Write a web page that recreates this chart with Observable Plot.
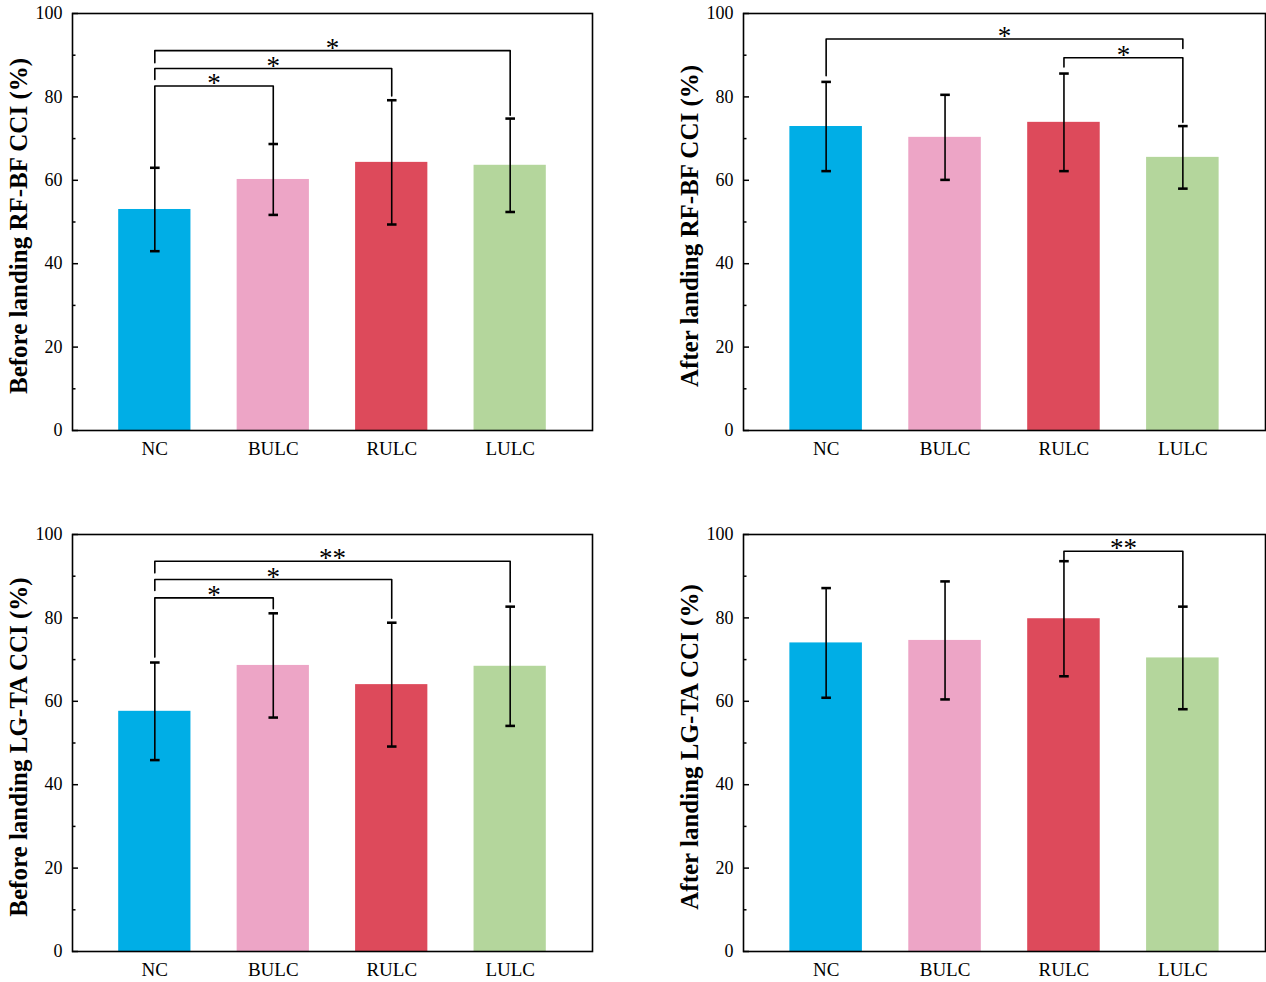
<!DOCTYPE html>
<html><head><meta charset="utf-8">
<script src="https://cdn.jsdelivr.net/npm/d3@7"></script>
<script src="https://cdn.jsdelivr.net/npm/@observablehq/plot@0.6"></script>
<style>
html,body{margin:0;padding:0;background:#fff;overflow:hidden;}
#root{position:relative;width:1266px;height:982px;background:#fff;}
.panel{position:absolute;}
</style></head><body><div id="root"></div>
<script>
const categories = ["NC", "BULC", "RULC", "LULC"];
const barColors = ["#00AEE6", "#EDA5C6", "#DD4A5B", "#B4D69C"];
const yMajorTicks = [0, 20, 40, 60, 80, 100];
const yMinorTicks = [10, 30, 50, 70, 90];

// Before landing RF-BF CCI
const beforeRFBFMean = [53.0, 60.2, 64.3, 63.6];
const beforeRFBFSd = [10.0, 8.5, 14.9, 11.2];
const beforeRFBFBrackets = [
  {from: "NC", to: "BULC", level: 82.6, leftEnd: 63.0, rightEnd: 68.7, label: "*"},
  {from: "NC", to: "RULC", level: 86.8, leftEnd: 84.2, rightEnd: 80.2, label: "*"},
  {from: "NC", to: "LULC", level: 91.1, leftEnd: 88.2, rightEnd: 75.6, label: "*"}
];

// After landing RF-BF CCI
const afterRFBFMean = [72.9, 70.3, 73.9, 65.5];
const afterRFBFSd = [10.7, 10.2, 11.7, 7.5];
const afterRFBFBrackets = [
  {from: "NC", to: "LULC", level: 93.9, leftEnd: 85.1, rightEnd: 91.6, label: "*"},
  {from: "RULC", to: "LULC", level: 89.4, leftEnd: 87.2, rightEnd: 73.9, label: "*"}
];

// Before landing LG-TA CCI
const beforeLGTAMean = [57.6, 68.6, 64.0, 68.4];
const beforeLGTASd = [11.7, 12.5, 14.85, 14.3];
const beforeLGTABrackets = [
  {from: "NC", to: "BULC", level: 84.8, leftEnd: 70.6, rightEnd: 82.2, label: "*"},
  {from: "NC", to: "RULC", level: 89.2, leftEnd: 86.6, rightEnd: 79.9, label: "*"},
  {from: "NC", to: "LULC", level: 93.6, leftEnd: 90.8, rightEnd: 83.8, label: "**"}
];

// After landing LG-TA CCI
const afterLGTAMean = [74.0, 74.6, 79.8, 70.4];
const afterLGTASd = [13.15, 14.15, 13.8, 12.3];
const afterLGTABrackets = [
  {from: "RULC", to: "LULC", level: 96.0, leftEnd: 93.5, rightEnd: 83.0, label: "**"}
];

const panels = [
  {ylabel: "Before landing RF-BF CCI (%)", mean: beforeRFBFMean, sd: beforeRFBFSd, brackets: beforeRFBFBrackets,
   left: 0, top: 0, marginLeft: 72, innerWidth: 520, marginRight: 28, marginBottom: 40},
  {ylabel: "After landing RF-BF CCI (%)", mean: afterRFBFMean, sd: afterRFBFSd, brackets: afterRFBFBrackets,
   left: 672, top: 0, marginLeft: 71, innerWidth: 522, marginRight: 1, marginBottom: 40},
  {ylabel: "Before landing LG-TA CCI (%)", mean: beforeLGTAMean, sd: beforeLGTASd, brackets: beforeLGTABrackets,
   left: 0, top: 521, marginLeft: 72, innerWidth: 520, marginRight: 28, marginBottom: 31},
  {ylabel: "After landing LG-TA CCI (%)", mean: afterLGTAMean, sd: afterLGTASd, brackets: afterLGTABrackets,
   left: 672, top: 521, marginLeft: 71, innerWidth: 522, marginRight: 1, marginBottom: 31}
];

const idx = c => categories.indexOf(c);
const halfBar = 0.305;

function makePanel(p) {
  const rows = categories.map((c, i) => ({
    cat: c, i, mean: p.mean[i], lo: p.mean[i] - p.sd[i], hi: p.mean[i] + p.sd[i], color: barColors[i]
  }));
  const bracketPts = p.brackets.flatMap((b, k) => [
    {id: k, x: idx(b.from), y: b.leftEnd},
    {id: k, x: idx(b.from), y: b.level},
    {id: k, x: idx(b.to), y: b.level},
    {id: k, x: idx(b.to), y: b.rightEnd}
  ]);
  const marginTop = 13, innerHeight = 417;
  return Plot.plot({
    width: p.marginLeft + p.innerWidth + p.marginRight,
    height: marginTop + innerHeight + p.marginBottom,
    marginLeft: p.marginLeft, marginRight: p.marginRight, marginTop, marginBottom: p.marginBottom,
    style: {fontFamily: "'Liberation Serif', 'Times New Roman', serif", color: "black", background: "white", overflow: "visible"},
    x: {type: "linear", domain: [-0.695, 3.695], axis: null},
    y: {domain: [0, 100], axis: null},
    color: {type: "identity"},
    marks: [
      Plot.rectY(rows, {x1: d => d.i - halfBar, x2: d => d.i + halfBar, y1: 0, y2: "mean", fill: d => d.color}),
      Plot.link(rows, {x1: "i", x2: "i", y1: "lo", y2: "hi", stroke: "black", strokeWidth: 1.6, markerStart: "tick", markerEnd: "tick"}),
      Plot.line(bracketPts, {x: "x", y: "y", z: "id", stroke: "black", strokeWidth: 1.6}),
      Plot.text(p.brackets, {x: d => (idx(d.from) + idx(d.to)) / 2, y: "level", text: "label", lineAnchor: "bottom", dy: 6, fontSize: 27, fill: "black"}),
      Plot.frame({stroke: "black", strokeWidth: 1.6}),
      Plot.axisY({ticks: yMajorTicks, tickSize: -6, tickPadding: 16, fontSize: 18, tickFormat: d => String(d), label: null, strokeWidth: 1.5}),
      Plot.axisY({ticks: yMinorTicks, tickSize: -3.5, tickFormat: () => "", label: null, strokeWidth: 1.5}),
      Plot.axisX({ticks: [0, 1, 2, 3], tickFormat: i => categories[i], tickSize: 0, tickPadding: 11, fontSize: 19, label: null}),
      Plot.text([p.ylabel], {frameAnchor: "left", textAnchor: "middle", lineAnchor: "middle", text: d => d, rotate: -90, dx: -54, dy: 4, fontSize: 25, fontWeight: "bold", fill: "black"})
    ]
  });
}

const root = document.getElementById("root");
for (const p of panels) {
  const div = document.createElement("div");
  div.className = "panel";
  div.style.left = p.left + "px";
  div.style.top = p.top + "px";
  div.appendChild(makePanel(p));
  root.appendChild(div);
}
</script></body></html>
